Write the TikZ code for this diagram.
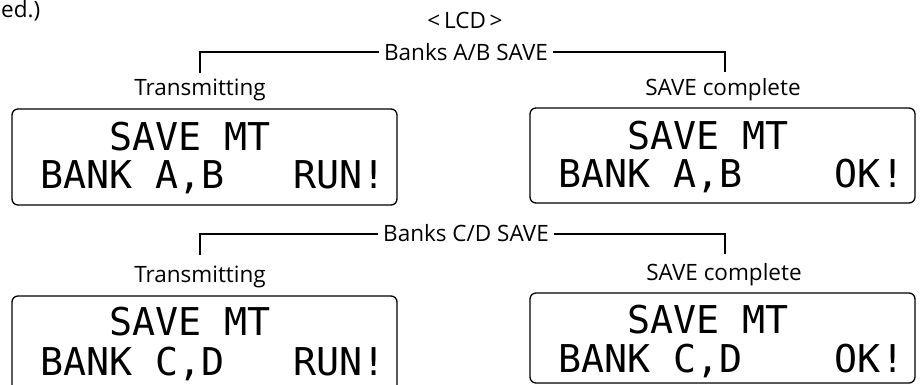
\documentclass[tikz,border=0pt]{standalone}
\usepackage{fontspec}
\setmainfont{Open Sans}
\newfontfamily\lcdfont{DejaVu Sans Mono}
\begin{document}
\begin{tikzpicture}[x=1pt,y=-1pt,
  lbl/.style={font=\fontsize{22.5}{26}\selectfont, inner sep=0pt, anchor=base},
  lcd/.style={draw, line width=1.3pt, rounded corners=6pt},
  lcdtxt/.style={font=\lcdfont\fontsize{38.3}{40}\selectfont, inner sep=0pt, anchor=base west},
  conn/.style={line width=1.1pt}]
\useasboundingbox (0,0) rectangle (920,384);
% fragment at top-left
\node[lbl, anchor=base west] (frag) at (1,17) {ed.)};
\node[lbl] (lcdtitle) at (465,28) {<\,LCD\,>};
% ---- Row 1 ----
\node[lbl] (ab) at (466,60) {Banks A/B SAVE};
\node[lbl] (tx1) at (200,95) {Transmitting};
\node[lbl] (sc1) at (723,95) {SAVE complete};
\coordinate (ab1) at (200,52);
\coordinate (ab2) at (725,52);
\draw[conn] (ab.west |- ab1) ++(-5,0) -- (ab1) -- ++(0,21);
\draw[conn] (ab.east |- ab2) ++(5,0) -- (ab2) -- ++(0,20);
\draw[lcd] (12,109) rectangle (397,205);
\node[lcdtxt] (l1a) at (40,150) {~~~SAVE~MT};
\node[lcdtxt] (l1b) at (40,188) {BANK~A,B~~~RUN!};
\draw[lcd] (530,108) rectangle (915,203);
\node[lcdtxt] (l2a) at (558,149) {~~~SAVE~MT};
\node[lcdtxt] (l2b) at (558,187) {BANK~A,B~~~~OK!};
% ---- Row 2 ----
\node[lbl] (cd) at (466,241) {Banks C/D SAVE};
\node[lbl] (tx2) at (200,282) {Transmitting};
\node[lbl] (sc2) at (724,280) {SAVE complete};
\coordinate (cd1) at (200,234);
\coordinate (cd2) at (725,234);
\draw[conn] (cd.west |- cd1) ++(-5,0) -- (cd1) -- ++(0,21);
\draw[conn] (cd.east |- cd2) ++(5,0) -- (cd2) -- ++(0,20);
\draw[lcd] (12,390) |- (397,296) -- (397,390);
\node[lcdtxt] (l3a) at (40,335) {~~~SAVE~MT};
\node[lcdtxt] (l3b) at (40,375) {BANK~C,D~~~RUN!};
\draw[lcd] (530,293) rectangle (915,383);
\node[lcdtxt] (l4a) at (558,333) {~~~SAVE~MT};
\node[lcdtxt] (l4b) at (558,372) {BANK~C,D~~~~OK!};
\end{tikzpicture}
\end{document}
